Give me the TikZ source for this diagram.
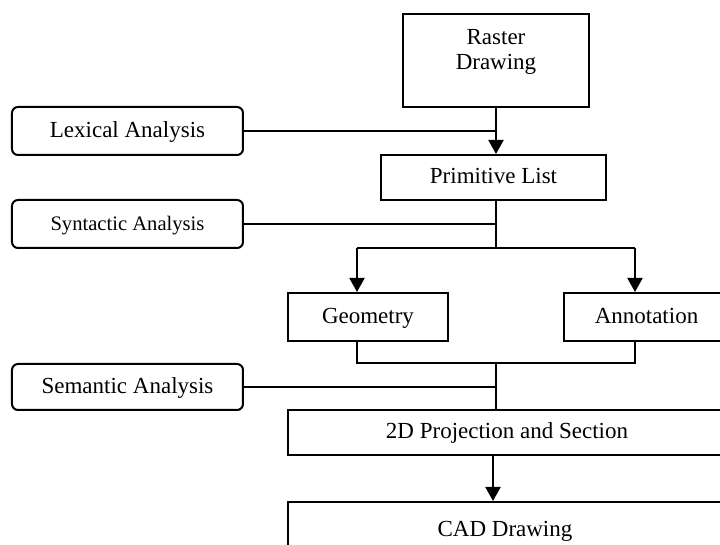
\documentclass[tikz,border=0pt]{standalone}
\usepackage{fontspec}
\setmainfont{Liberation Serif}
\usetikzlibrary{arrows.meta}
\begin{document}
\begin{tikzpicture}[x=0.5pt,y=-0.5pt,
  line width=1pt,
  every node/.style={font=\fontsize{11.5}{13.5}\selectfont, inner sep=0pt, align=center},
  stagebox/.style={draw, rectangle},
  oneline/.style={text height=8pt, text depth=1.5pt},
  analysisbox/.style={draw, oneline, rounded corners=3pt, minimum width=115.5pt, minimum height=24pt},
  flow/.style={-{Triangle[width=7.5pt,length=7pt]}}]
\useasboundingbox (0,0) rectangle (720,545);
\clip (0,0) rectangle (720,545);

% processing stages
\node[stagebox, minimum width=93pt, minimum height=46.5pt] (raster) at (496,60.5) {};
\node[font=\fontsize{11.5}{12.5}\selectfont] (rastertext) at ([yshift=4.5pt]raster.center) {Raster\\Drawing};
\node[stagebox, oneline, minimum width=112.5pt, minimum height=22.5pt] (prim) at (493.5,177.5) {Primitive List};
\node[stagebox, oneline, minimum width=80pt, minimum height=24pt] (geo) at (368,317) {Geometry};
\node[stagebox, oneline, minimum width=82.5pt, minimum height=24pt] (ann) at (646.5,317) {Annotation};
\node[stagebox, oneline, minimum width=219pt, minimum height=22.5pt] (proj) at (507,432.5) {2D Projection and Section};
\node[stagebox, oneline, minimum width=217pt, minimum height=28pt] (cad) at (505,530) {CAD Drawing};

% analysis steps
\node[analysisbox] (lex) at (127.5,131) {Lexical Analysis};
\node[analysisbox, font=\fontsize{10.3}{12}\selectfont] (syn) at (127.5,224) {Syntactic Analysis};
\node[analysisbox, minimum height=23pt] (sem) at (127.5,387) {Semantic Analysis};

% junction points
\coordinate (split) at (496,248);
\coordinate (geoL) at (357,248);
\coordinate (annR) at (635,248);
\coordinate (merge) at (496,363);
\coordinate (down) at (493,0);

% connectors
\draw[flow] (raster.south) -- (raster.south |- prim.north);
\draw (lex.east) -- (lex.east -| raster.south);
\draw (prim.south -| split) -- (split);
\draw (syn.east) -- (syn.east -| split);
\draw (geoL) -- (annR);
\draw[flow] (geoL) -- (geoL |- geo.north);
\draw[flow] (annR) -- (annR |- ann.north);
\draw (geoL |- geo.south) -- (geoL |- merge) -- (annR |- merge) -- (annR |- ann.south);
\draw (merge) -- (merge |- proj.north);
\draw (sem.east) -- (sem.east -| merge);
\draw[flow] (proj.south -| down) -- (cad.north -| down);
\end{tikzpicture}
\end{document}
